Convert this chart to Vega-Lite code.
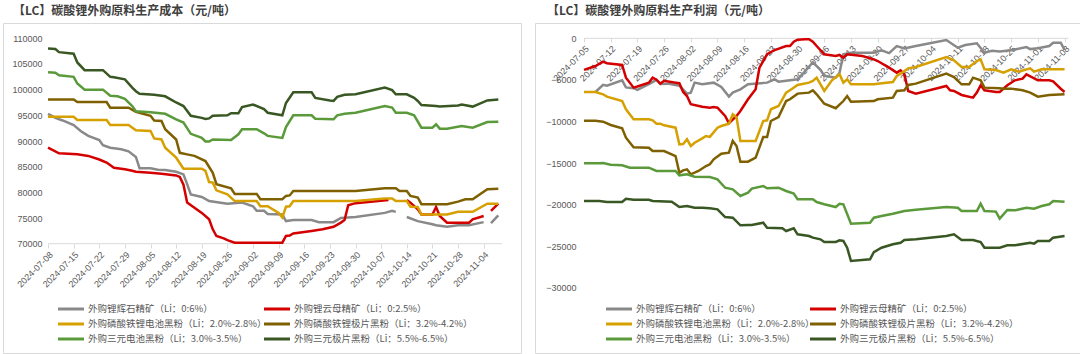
{
"$schema":"https://vega.github.io/schema/vega-lite/v6.json",
"background":"white",
"padding":{"left":2,"top":4,"right":0,"bottom":0},
"spacing":12,
"datasets":{
"series":[
{"k":1,"name":"外购锂辉石精矿（Li：0:6%）"},
{"k":2,"name":"外购锂云母精矿（Li：0:2.5%）"},
{"k":3,"name":"外购磷酸铁锂电池黑粉（Li：2.0%-2.8%）"},
{"k":4,"name":"外购磷酸铁锂极片黑粉（Li：3.2%-4.2%）"},
{"k":5,"name":"外购三元电池黑粉（Li：3.0%-3.5%）"},
{"k":6,"name":"外购三元极片黑粉（Li：5.5%-6.5%）"}
],
"cost":[
{"k":1,"d":"2024-07-08","v":95300},{"k":1,"d":"2024-07-10","v":94500},{"k":1,"d":"2024-07-12","v":94000},{"k":1,"d":"2024-07-15","v":93100},{"k":1,"d":"2024-07-17","v":91900},{"k":1,"d":"2024-07-19","v":91000},{"k":1,"d":"2024-07-22","v":90200},{"k":1,"d":"2024-07-23","v":89200},{"k":1,"d":"2024-07-25","v":88700},{"k":1,"d":"2024-07-28","v":88400},{"k":1,"d":"2024-07-30","v":88000},{"k":1,"d":"2024-08-01","v":86900},{"k":1,"d":"2024-08-02","v":84700},{"k":1,"d":"2024-08-05","v":84700},{"k":1,"d":"2024-08-07","v":84400},{"k":1,"d":"2024-08-09","v":84350},{"k":1,"d":"2024-08-12","v":84000},{"k":1,"d":"2024-08-14","v":83500},{"k":1,"d":"2024-08-15","v":81600},{"k":1,"d":"2024-08-16","v":79600},{"k":1,"d":"2024-08-19","v":79100},{"k":1,"d":"2024-08-21","v":78300},{"k":1,"d":"2024-08-26","v":77800},{"k":1,"d":"2024-08-30","v":78000},{"k":1,"d":"2024-09-02","v":77300},{"k":1,"d":"2024-09-03","v":76400},{"k":1,"d":"2024-09-05","v":76400},{"k":1,"d":"2024-09-06","v":75800},{"k":1,"d":"2024-09-10","v":75700},{"k":1,"d":"2024-09-11","v":74400},{"k":1,"d":"2024-09-13","v":74600},{"k":1,"d":"2024-09-18","v":74600},{"k":1,"d":"2024-09-20","v":74200},{"k":1,"d":"2024-09-24","v":74200},{"k":1,"d":"2024-09-26","v":75000},{"k":1,"d":"2024-09-30","v":75200},{"k":1,"d":"2024-10-08","v":76000},{"k":1,"d":"2024-10-10","v":76400},{"k":1,"d":"2024-10-11","v":76200},{"k":1,"d":"2024-10-12","v":null},{"k":1,"d":"2024-10-14","v":75200},{"k":1,"d":"2024-10-17","v":74400},{"k":1,"d":"2024-10-21","v":73800},{"k":1,"d":"2024-10-22","v":73600},{"k":1,"d":"2024-10-25","v":73300},{"k":1,"d":"2024-10-28","v":73600},{"k":1,"d":"2024-10-31","v":73600},{"k":1,"d":"2024-11-04","v":74200},{"k":1,"d":"2024-11-05","v":null},{"k":1,"d":"2024-11-06","v":74000},{"k":1,"d":"2024-11-08","v":75500},
{"k":2,"d":"2024-07-08","v":88700},{"k":2,"d":"2024-07-11","v":87600},{"k":2,"d":"2024-07-16","v":87400},{"k":2,"d":"2024-07-19","v":87100},{"k":2,"d":"2024-07-22","v":86400},{"k":2,"d":"2024-07-24","v":85800},{"k":2,"d":"2024-07-26","v":84800},{"k":2,"d":"2024-07-29","v":84500},{"k":2,"d":"2024-07-31","v":84200},{"k":2,"d":"2024-08-01","v":84000},{"k":2,"d":"2024-08-05","v":83800},{"k":2,"d":"2024-08-08","v":83600},{"k":2,"d":"2024-08-12","v":83300},{"k":2,"d":"2024-08-13","v":83000},{"k":2,"d":"2024-08-14","v":81500},{"k":2,"d":"2024-08-15","v":78000},{"k":2,"d":"2024-08-17","v":77000},{"k":2,"d":"2024-08-19","v":76000},{"k":2,"d":"2024-08-21","v":74750},{"k":2,"d":"2024-08-22","v":72800},{"k":2,"d":"2024-08-23","v":71500},{"k":2,"d":"2024-08-25","v":71050},{"k":2,"d":"2024-08-26","v":70700},{"k":2,"d":"2024-08-28","v":70200},{"k":2,"d":"2024-09-10","v":70200},{"k":2,"d":"2024-09-11","v":71500},{"k":2,"d":"2024-09-12","v":71600},{"k":2,"d":"2024-09-13","v":72000},{"k":2,"d":"2024-09-18","v":72470},{"k":2,"d":"2024-09-21","v":72800},{"k":2,"d":"2024-09-24","v":73300},{"k":2,"d":"2024-09-26","v":74100},{"k":2,"d":"2024-09-27","v":74600},{"k":2,"d":"2024-09-28","v":77500},{"k":2,"d":"2024-09-30","v":77900},{"k":2,"d":"2024-10-09","v":78500},{"k":2,"d":"2024-10-10","v":null},{"k":2,"d":"2024-10-14","v":78500},{"k":2,"d":"2024-10-15","v":78000},{"k":2,"d":"2024-10-17","v":76700},{"k":2,"d":"2024-10-18","v":75700},{"k":2,"d":"2024-10-21","v":75700},{"k":2,"d":"2024-10-22","v":77150},{"k":2,"d":"2024-10-23","v":75400},{"k":2,"d":"2024-10-25","v":74100},{"k":2,"d":"2024-10-31","v":74100},{"k":2,"d":"2024-11-01","v":74750},{"k":2,"d":"2024-11-04","v":75400},{"k":2,"d":"2024-11-05","v":null},{"k":2,"d":"2024-11-06","v":76400},{"k":2,"d":"2024-11-08","v":77800},
{"k":3,"d":"2024-07-08","v":94700},{"k":3,"d":"2024-07-15","v":94700},{"k":3,"d":"2024-07-16","v":94100},{"k":3,"d":"2024-07-24","v":94100},{"k":3,"d":"2024-07-25","v":93100},{"k":3,"d":"2024-07-30","v":93100},{"k":3,"d":"2024-08-01","v":92100},{"k":3,"d":"2024-08-05","v":91950},{"k":3,"d":"2024-08-06","v":90500},{"k":3,"d":"2024-08-08","v":90300},{"k":3,"d":"2024-08-09","v":88700},{"k":3,"d":"2024-08-12","v":86750},{"k":3,"d":"2024-08-14","v":84600},{"k":3,"d":"2024-08-19","v":84600},{"k":3,"d":"2024-08-20","v":84200},{"k":3,"d":"2024-08-21","v":82000},{"k":3,"d":"2024-08-22","v":81900},{"k":3,"d":"2024-08-23","v":80400},{"k":3,"d":"2024-08-26","v":79600},{"k":3,"d":"2024-08-28","v":78300},{"k":3,"d":"2024-09-03","v":78300},{"k":3,"d":"2024-09-04","v":77300},{"k":3,"d":"2024-09-06","v":77300},{"k":3,"d":"2024-09-09","v":76000},{"k":3,"d":"2024-09-10","v":75100},{"k":3,"d":"2024-09-11","v":77200},{"k":3,"d":"2024-09-12","v":77300},{"k":3,"d":"2024-09-13","v":78300},{"k":3,"d":"2024-09-30","v":78300},{"k":3,"d":"2024-10-08","v":78800},{"k":3,"d":"2024-10-10","v":78800},{"k":3,"d":"2024-10-11","v":78300},{"k":3,"d":"2024-10-14","v":78300},{"k":3,"d":"2024-10-15","v":77200},{"k":3,"d":"2024-10-17","v":77150},{"k":3,"d":"2024-10-18","v":75700},{"k":3,"d":"2024-10-25","v":75700},{"k":3,"d":"2024-10-28","v":76200},{"k":3,"d":"2024-11-01","v":76200},{"k":3,"d":"2024-11-05","v":77800},{"k":3,"d":"2024-11-08","v":77800},
{"k":4,"d":"2024-07-08","v":98100},{"k":4,"d":"2024-07-15","v":98100},{"k":4,"d":"2024-07-16","v":97600},{"k":4,"d":"2024-07-24","v":97600},{"k":4,"d":"2024-07-25","v":96500},{"k":4,"d":"2024-07-30","v":96500},{"k":4,"d":"2024-08-01","v":95700},{"k":4,"d":"2024-08-05","v":94900},{"k":4,"d":"2024-08-06","v":94000},{"k":4,"d":"2024-08-08","v":93900},{"k":4,"d":"2024-08-09","v":92300},{"k":4,"d":"2024-08-12","v":90300},{"k":4,"d":"2024-08-13","v":87700},{"k":4,"d":"2024-08-15","v":87400},{"k":4,"d":"2024-08-17","v":87100},{"k":4,"d":"2024-08-20","v":86100},{"k":4,"d":"2024-08-22","v":83800},{"k":4,"d":"2024-08-23","v":81600},{"k":4,"d":"2024-08-27","v":80800},{"k":4,"d":"2024-08-28","v":79700},{"k":4,"d":"2024-09-03","v":79700},{"k":4,"d":"2024-09-04","v":78650},{"k":4,"d":"2024-09-10","v":78650},{"k":4,"d":"2024-09-11","v":79300},{"k":4,"d":"2024-09-12","v":79400},{"k":4,"d":"2024-09-13","v":80260},{"k":4,"d":"2024-09-30","v":80260},{"k":4,"d":"2024-10-08","v":80800},{"k":4,"d":"2024-10-11","v":80800},{"k":4,"d":"2024-10-12","v":80260},{"k":4,"d":"2024-10-14","v":80260},{"k":4,"d":"2024-10-15","v":79300},{"k":4,"d":"2024-10-17","v":79000},{"k":4,"d":"2024-10-18","v":77700},{"k":4,"d":"2024-10-25","v":77700},{"k":4,"d":"2024-10-28","v":78200},{"k":4,"d":"2024-10-30","v":78650},{"k":4,"d":"2024-11-01","v":78650},{"k":4,"d":"2024-11-05","v":80600},{"k":4,"d":"2024-11-08","v":80700},
{"k":5,"d":"2024-07-08","v":103400},{"k":5,"d":"2024-07-10","v":103300},{"k":5,"d":"2024-07-11","v":102800},{"k":5,"d":"2024-07-15","v":102500},{"k":5,"d":"2024-07-16","v":101200},{"k":5,"d":"2024-07-18","v":100000},{"k":5,"d":"2024-07-23","v":100000},{"k":5,"d":"2024-07-25","v":98800},{"k":5,"d":"2024-07-27","v":98700},{"k":5,"d":"2024-07-29","v":98200},{"k":5,"d":"2024-07-31","v":96800},{"k":5,"d":"2024-08-01","v":95800},{"k":5,"d":"2024-08-05","v":95600},{"k":5,"d":"2024-08-09","v":95300},{"k":5,"d":"2024-08-12","v":94200},{"k":5,"d":"2024-08-14","v":93600},{"k":5,"d":"2024-08-16","v":91400},{"k":5,"d":"2024-08-19","v":90600},{"k":5,"d":"2024-08-20","v":89900},{"k":5,"d":"2024-08-21","v":89900},{"k":5,"d":"2024-08-22","v":90300},{"k":5,"d":"2024-08-27","v":90200},{"k":5,"d":"2024-08-29","v":91300},{"k":5,"d":"2024-08-30","v":92300},{"k":5,"d":"2024-09-03","v":92300},{"k":5,"d":"2024-09-05","v":91500},{"k":5,"d":"2024-09-06","v":91000},{"k":5,"d":"2024-09-10","v":90600},{"k":5,"d":"2024-09-11","v":92700},{"k":5,"d":"2024-09-13","v":95000},{"k":5,"d":"2024-09-18","v":95000},{"k":5,"d":"2024-09-19","v":94350},{"k":5,"d":"2024-09-24","v":94230},{"k":5,"d":"2024-09-25","v":95000},{"k":5,"d":"2024-09-27","v":95300},{"k":5,"d":"2024-09-30","v":95500},{"k":5,"d":"2024-10-08","v":96800},{"k":5,"d":"2024-10-10","v":96500},{"k":5,"d":"2024-10-11","v":95500},{"k":5,"d":"2024-10-14","v":95500},{"k":5,"d":"2024-10-16","v":95000},{"k":5,"d":"2024-10-18","v":92600},{"k":5,"d":"2024-10-21","v":92600},{"k":5,"d":"2024-10-22","v":93250},{"k":5,"d":"2024-10-23","v":92400},{"k":5,"d":"2024-10-25","v":92400},{"k":5,"d":"2024-10-29","v":92900},{"k":5,"d":"2024-11-01","v":92600},{"k":5,"d":"2024-11-05","v":93700},{"k":5,"d":"2024-11-08","v":93760},
{"k":6,"d":"2024-07-08","v":108000},{"k":6,"d":"2024-07-10","v":107900},{"k":6,"d":"2024-07-11","v":107300},{"k":6,"d":"2024-07-15","v":107000},{"k":6,"d":"2024-07-16","v":105300},{"k":6,"d":"2024-07-18","v":103800},{"k":6,"d":"2024-07-23","v":103800},{"k":6,"d":"2024-07-25","v":102500},{"k":6,"d":"2024-07-26","v":102400},{"k":6,"d":"2024-07-29","v":102000},{"k":6,"d":"2024-07-31","v":100400},{"k":6,"d":"2024-08-01","v":99700},{"k":6,"d":"2024-08-02","v":99200},{"k":6,"d":"2024-08-06","v":99000},{"k":6,"d":"2024-08-09","v":98700},{"k":6,"d":"2024-08-12","v":97500},{"k":6,"d":"2024-08-14","v":96800},{"k":6,"d":"2024-08-16","v":94900},{"k":6,"d":"2024-08-19","v":94500},{"k":6,"d":"2024-08-20","v":94300},{"k":6,"d":"2024-08-21","v":94400},{"k":6,"d":"2024-08-22","v":94900},{"k":6,"d":"2024-08-26","v":95000},{"k":6,"d":"2024-08-27","v":95400},{"k":6,"d":"2024-08-29","v":95400},{"k":6,"d":"2024-08-30","v":96600},{"k":6,"d":"2024-09-02","v":97100},{"k":6,"d":"2024-09-05","v":96200},{"k":6,"d":"2024-09-06","v":95500},{"k":6,"d":"2024-09-10","v":95000},{"k":6,"d":"2024-09-11","v":97400},{"k":6,"d":"2024-09-13","v":99500},{"k":6,"d":"2024-09-18","v":99500},{"k":6,"d":"2024-09-19","v":98400},{"k":6,"d":"2024-09-23","v":97900},{"k":6,"d":"2024-09-24","v":97800},{"k":6,"d":"2024-09-25","v":98600},{"k":6,"d":"2024-09-27","v":99000},{"k":6,"d":"2024-09-30","v":99100},{"k":6,"d":"2024-10-08","v":100400},{"k":6,"d":"2024-10-10","v":99900},{"k":6,"d":"2024-10-11","v":99100},{"k":6,"d":"2024-10-14","v":99100},{"k":6,"d":"2024-10-16","v":98400},{"k":6,"d":"2024-10-17","v":97800},{"k":6,"d":"2024-10-18","v":97000},{"k":6,"d":"2024-10-22","v":96800},{"k":6,"d":"2024-10-23","v":96700},{"k":6,"d":"2024-10-28","v":96900},{"k":6,"d":"2024-10-29","v":97100},{"k":6,"d":"2024-11-01","v":96700},{"k":6,"d":"2024-11-05","v":97900},{"k":6,"d":"2024-11-08","v":98100}
],
"profit":[
{"k":1,"d":"2024-07-08","v":-6450},{"k":1,"d":"2024-07-10","v":-5600},{"k":1,"d":"2024-07-11","v":-5700},{"k":1,"d":"2024-07-15","v":-5050},{"k":1,"d":"2024-07-16","v":-5900},{"k":1,"d":"2024-07-18","v":-6000},{"k":1,"d":"2024-07-19","v":-6200},{"k":1,"d":"2024-07-22","v":-5500},{"k":1,"d":"2024-07-24","v":-5000},{"k":1,"d":"2024-07-25","v":-5500},{"k":1,"d":"2024-07-27","v":-5450},{"k":1,"d":"2024-07-30","v":-5700},{"k":1,"d":"2024-08-01","v":-6650},{"k":1,"d":"2024-08-02","v":-6530},{"k":1,"d":"2024-08-03","v":-5330},{"k":1,"d":"2024-08-05","v":-5530},{"k":1,"d":"2024-08-08","v":-5330},{"k":1,"d":"2024-08-10","v":-5850},{"k":1,"d":"2024-08-12","v":-7000},{"k":1,"d":"2024-08-13","v":-6530},{"k":1,"d":"2024-08-15","v":-6130},{"k":1,"d":"2024-08-17","v":-5530},{"k":1,"d":"2024-08-22","v":-5330},{"k":1,"d":"2024-08-24","v":-4930},{"k":1,"d":"2024-08-25","v":-5210},{"k":1,"d":"2024-08-30","v":-4930},{"k":1,"d":"2024-09-01","v":-3930},{"k":1,"d":"2024-09-03","v":-2900},{"k":1,"d":"2024-09-05","v":-3800},{"k":1,"d":"2024-09-06","v":-4500},{"k":1,"d":"2024-09-09","v":-4730},{"k":1,"d":"2024-09-10","v":-4130},{"k":1,"d":"2024-09-11","v":-1930},{"k":1,"d":"2024-09-13","v":-1730},{"k":1,"d":"2024-09-19","v":-1730},{"k":1,"d":"2024-09-21","v":-1450},{"k":1,"d":"2024-09-23","v":-1780},{"k":1,"d":"2024-09-25","v":-930},{"k":1,"d":"2024-09-27","v":-1210},{"k":1,"d":"2024-09-30","v":-930},{"k":1,"d":"2024-10-08","v":-200},{"k":1,"d":"2024-10-11","v":-1130},{"k":1,"d":"2024-10-13","v":-800},{"k":1,"d":"2024-10-16","v":-600},{"k":1,"d":"2024-10-18","v":-1730},{"k":1,"d":"2024-10-20","v":-1500},{"k":1,"d":"2024-10-22","v":-1600},{"k":1,"d":"2024-10-25","v":-1450},{"k":1,"d":"2024-10-29","v":-1050},{"k":1,"d":"2024-10-30","v":-1300},{"k":1,"d":"2024-11-01","v":-1200},{"k":1,"d":"2024-11-04","v":-930},{"k":1,"d":"2024-11-05","v":-530},{"k":1,"d":"2024-11-07","v":-530},{"k":1,"d":"2024-11-08","v":-1400},
{"k":2,"d":"2024-07-05","v":-3800},{"k":2,"d":"2024-07-08","v":-3330},{"k":2,"d":"2024-07-10","v":-2810},{"k":2,"d":"2024-07-11","v":-3000},{"k":2,"d":"2024-07-15","v":-3210},{"k":2,"d":"2024-07-16","v":-4730},{"k":2,"d":"2024-07-18","v":-5930},{"k":2,"d":"2024-07-19","v":-5800},{"k":2,"d":"2024-07-22","v":-5330},{"k":2,"d":"2024-07-23","v":-4730},{"k":2,"d":"2024-07-24","v":-4970},{"k":2,"d":"2024-07-25","v":-5450},{"k":2,"d":"2024-07-26","v":-5100},{"k":2,"d":"2024-07-29","v":-5330},{"k":2,"d":"2024-07-30","v":-5400},{"k":2,"d":"2024-07-31","v":-6450},{"k":2,"d":"2024-08-01","v":-6940},{"k":2,"d":"2024-08-02","v":-7930},{"k":2,"d":"2024-08-05","v":-8220},{"k":2,"d":"2024-08-07","v":-8340},{"k":2,"d":"2024-08-08","v":-8260},{"k":2,"d":"2024-08-09","v":-8340},{"k":2,"d":"2024-08-11","v":-9340},{"k":2,"d":"2024-08-12","v":-10200},{"k":2,"d":"2024-08-14","v":-9340},{"k":2,"d":"2024-08-15","v":-8740},{"k":2,"d":"2024-08-17","v":-7330},{"k":2,"d":"2024-08-19","v":-6130},{"k":2,"d":"2024-08-20","v":-3530},{"k":2,"d":"2024-08-22","v":-1920},{"k":2,"d":"2024-08-24","v":-1410},{"k":2,"d":"2024-08-27","v":-930},{"k":2,"d":"2024-08-28","v":-930},{"k":2,"d":"2024-08-29","v":-410},{"k":2,"d":"2024-08-30","v":-170},{"k":2,"d":"2024-09-01","v":-100},{"k":2,"d":"2024-09-02","v":-100},{"k":2,"d":"2024-09-03","v":-400},{"k":2,"d":"2024-09-04","v":-930},{"k":2,"d":"2024-09-06","v":-1930},{"k":2,"d":"2024-09-09","v":-2130},{"k":2,"d":"2024-09-10","v":-2000},{"k":2,"d":"2024-09-11","v":-2330},{"k":2,"d":"2024-09-12","v":-1930},{"k":2,"d":"2024-09-16","v":-2130},{"k":2,"d":"2024-09-19","v":-2530},{"k":2,"d":"2024-09-20","v":-2730},{"k":2,"d":"2024-09-23","v":-3530},{"k":2,"d":"2024-09-25","v":-4130},{"k":2,"d":"2024-09-26","v":-3850},{"k":2,"d":"2024-09-27","v":-4330},{"k":2,"d":"2024-09-28","v":-6330},{"k":2,"d":"2024-09-30","v":-6650},{"k":2,"d":"2024-10-08","v":-5730},{"k":2,"d":"2024-10-09","v":-6250},{"k":2,"d":"2024-10-10","v":-6330},{"k":2,"d":"2024-10-12","v":-6810},{"k":2,"d":"2024-10-15","v":-7130},{"k":2,"d":"2024-10-16","v":-6530},{"k":2,"d":"2024-10-17","v":-5650},{"k":2,"d":"2024-10-18","v":-6250},{"k":2,"d":"2024-10-21","v":-6450},{"k":2,"d":"2024-10-22","v":-6450},{"k":2,"d":"2024-10-24","v":-5650},{"k":2,"d":"2024-10-26","v":-5050},{"k":2,"d":"2024-10-28","v":-4850},{"k":2,"d":"2024-10-29","v":-4330},{"k":2,"d":"2024-11-01","v":-5050},{"k":2,"d":"2024-11-04","v":-5050},{"k":2,"d":"2024-11-05","v":-5170},{"k":2,"d":"2024-11-07","v":-6060},{"k":2,"d":"2024-11-08","v":-6450},
{"k":3,"d":"2024-07-05","v":-6450},{"k":3,"d":"2024-07-08","v":-6450},{"k":3,"d":"2024-07-10","v":-6730},{"k":3,"d":"2024-07-11","v":-7010},{"k":3,"d":"2024-07-15","v":-7540},{"k":3,"d":"2024-07-16","v":-8530},{"k":3,"d":"2024-07-18","v":-9740},{"k":3,"d":"2024-07-22","v":-9740},{"k":3,"d":"2024-07-23","v":-9860},{"k":3,"d":"2024-07-24","v":-10260},{"k":3,"d":"2024-07-25","v":-10260},{"k":3,"d":"2024-07-26","v":-10460},{"k":3,"d":"2024-07-29","v":-10740},{"k":3,"d":"2024-07-30","v":-12740},{"k":3,"d":"2024-07-31","v":-12700},{"k":3,"d":"2024-08-01","v":-12140},{"k":3,"d":"2024-08-02","v":-12940},{"k":3,"d":"2024-08-03","v":-12550},{"k":3,"d":"2024-08-05","v":-12020},{"k":3,"d":"2024-08-06","v":-11740},{"k":3,"d":"2024-08-07","v":-11850},{"k":3,"d":"2024-08-09","v":-10740},{"k":3,"d":"2024-08-10","v":-10540},{"k":3,"d":"2024-08-12","v":-10260},{"k":3,"d":"2024-08-13","v":-9130},{"k":3,"d":"2024-08-14","v":-9500},{"k":3,"d":"2024-08-15","v":-12340},{"k":3,"d":"2024-08-19","v":-12340},{"k":3,"d":"2024-08-21","v":-9940},{"k":3,"d":"2024-08-22","v":-9860},{"k":3,"d":"2024-08-23","v":-8530},{"k":3,"d":"2024-08-25","v":-8140},{"k":3,"d":"2024-08-27","v":-6540},{"k":3,"d":"2024-08-28","v":-6250},{"k":3,"d":"2024-08-30","v":-5610},{"k":3,"d":"2024-09-02","v":-5330},{"k":3,"d":"2024-09-03","v":-5130},{"k":3,"d":"2024-09-04","v":-4730},{"k":3,"d":"2024-09-06","v":-6330},{"k":3,"d":"2024-09-08","v":-5050},{"k":3,"d":"2024-09-10","v":-4330},{"k":3,"d":"2024-09-11","v":-5330},{"k":3,"d":"2024-09-12","v":-4930},{"k":3,"d":"2024-09-13","v":-5530},{"k":3,"d":"2024-09-19","v":-5530},{"k":3,"d":"2024-09-20","v":-5450},{"k":3,"d":"2024-09-24","v":-5250},{"k":3,"d":"2024-09-25","v":-4530},{"k":3,"d":"2024-09-26","v":-4250},{"k":3,"d":"2024-09-28","v":-3610},{"k":3,"d":"2024-09-30","v":-3450},{"k":3,"d":"2024-10-08","v":-2250},{"k":3,"d":"2024-10-10","v":-2650},{"k":3,"d":"2024-10-12","v":-3450},{"k":3,"d":"2024-10-14","v":-3450},{"k":3,"d":"2024-10-16","v":-2730},{"k":3,"d":"2024-10-17","v":-2530},{"k":3,"d":"2024-10-18","v":-3730},{"k":3,"d":"2024-10-21","v":-3810},{"k":3,"d":"2024-10-23","v":-4130},{"k":3,"d":"2024-10-25","v":-3730},{"k":3,"d":"2024-10-27","v":-4010},{"k":3,"d":"2024-10-30","v":-3610},{"k":3,"d":"2024-10-31","v":-4010},{"k":3,"d":"2024-11-02","v":-3730},{"k":3,"d":"2024-11-04","v":-3730},{"k":3,"d":"2024-11-08","v":-3730},
{"k":4,"d":"2024-07-05","v":-9900},{"k":4,"d":"2024-07-08","v":-9900},{"k":4,"d":"2024-07-10","v":-10020},{"k":4,"d":"2024-07-12","v":-10420},{"k":4,"d":"2024-07-15","v":-10820},{"k":4,"d":"2024-07-16","v":-11950},{"k":4,"d":"2024-07-18","v":-13100},{"k":4,"d":"2024-07-22","v":-13150},{"k":4,"d":"2024-07-23","v":-13550},{"k":4,"d":"2024-07-26","v":-13550},{"k":4,"d":"2024-07-29","v":-14150},{"k":4,"d":"2024-07-30","v":-16150},{"k":4,"d":"2024-07-31","v":-15870},{"k":4,"d":"2024-08-01","v":-15750},{"k":4,"d":"2024-08-02","v":-16350},{"k":4,"d":"2024-08-04","v":-15950},{"k":4,"d":"2024-08-06","v":-15350},{"k":4,"d":"2024-08-07","v":-15150},{"k":4,"d":"2024-08-08","v":-14550},{"k":4,"d":"2024-08-10","v":-13870},{"k":4,"d":"2024-08-12","v":-13750},{"k":4,"d":"2024-08-13","v":-12340},{"k":4,"d":"2024-08-14","v":-12940},{"k":4,"d":"2024-08-15","v":-14830},{"k":4,"d":"2024-08-17","v":-14830},{"k":4,"d":"2024-08-19","v":-14350},{"k":4,"d":"2024-08-21","v":-11860},{"k":4,"d":"2024-08-22","v":-11860},{"k":4,"d":"2024-08-23","v":-9940},{"k":4,"d":"2024-08-25","v":-9460},{"k":4,"d":"2024-08-27","v":-7540},{"k":4,"d":"2024-08-28","v":-7330},{"k":4,"d":"2024-08-30","v":-6650},{"k":4,"d":"2024-09-02","v":-6530},{"k":4,"d":"2024-09-03","v":-6250},{"k":4,"d":"2024-09-04","v":-6730},{"k":4,"d":"2024-09-06","v":-7860},{"k":4,"d":"2024-09-09","v":-8410},{"k":4,"d":"2024-09-11","v":-7540},{"k":4,"d":"2024-09-12","v":-6940},{"k":4,"d":"2024-09-13","v":-7620},{"k":4,"d":"2024-09-19","v":-7540},{"k":4,"d":"2024-09-20","v":-7330},{"k":4,"d":"2024-09-24","v":-7130},{"k":4,"d":"2024-09-25","v":-6330},{"k":4,"d":"2024-09-27","v":-6250},{"k":4,"d":"2024-09-28","v":-5610},{"k":4,"d":"2024-09-30","v":-5450},{"k":4,"d":"2024-10-08","v":-4250},{"k":4,"d":"2024-10-10","v":-4650},{"k":4,"d":"2024-10-12","v":-5530},{"k":4,"d":"2024-10-14","v":-5530},{"k":4,"d":"2024-10-15","v":-4730},{"k":4,"d":"2024-10-17","v":-5050},{"k":4,"d":"2024-10-18","v":-5930},{"k":4,"d":"2024-10-22","v":-6010},{"k":4,"d":"2024-10-23","v":-6050},{"k":4,"d":"2024-10-25","v":-6050},{"k":4,"d":"2024-10-28","v":-6250},{"k":4,"d":"2024-10-30","v":-6530},{"k":4,"d":"2024-11-01","v":-7010},{"k":4,"d":"2024-11-04","v":-6810},{"k":4,"d":"2024-11-08","v":-6730},
{"k":5,"d":"2024-07-05","v":-15030},{"k":5,"d":"2024-07-09","v":-15030},{"k":5,"d":"2024-07-10","v":-15000},{"k":5,"d":"2024-07-12","v":-15200},{"k":5,"d":"2024-07-15","v":-15270},{"k":5,"d":"2024-07-17","v":-15550},{"k":5,"d":"2024-07-22","v":-15550},{"k":5,"d":"2024-07-24","v":-15950},{"k":5,"d":"2024-07-29","v":-15950},{"k":5,"d":"2024-07-30","v":-16470},{"k":5,"d":"2024-08-01","v":-16350},{"k":5,"d":"2024-08-03","v":-16630},{"k":5,"d":"2024-08-07","v":-16670},{"k":5,"d":"2024-08-09","v":-16950},{"k":5,"d":"2024-08-11","v":-17960},{"k":5,"d":"2024-08-13","v":-18150},{"k":5,"d":"2024-08-15","v":-18950},{"k":5,"d":"2024-08-17","v":-18550},{"k":5,"d":"2024-08-18","v":-18070},{"k":5,"d":"2024-08-21","v":-17750},{"k":5,"d":"2024-08-22","v":-18030},{"k":5,"d":"2024-08-25","v":-17950},{"k":5,"d":"2024-08-27","v":-18350},{"k":5,"d":"2024-08-29","v":-18670},{"k":5,"d":"2024-08-30","v":-19350},{"k":5,"d":"2024-09-03","v":-19350},{"k":5,"d":"2024-09-04","v":-19680},{"k":5,"d":"2024-09-06","v":-19950},{"k":5,"d":"2024-09-09","v":-20280},{"k":5,"d":"2024-09-10","v":-19880},{"k":5,"d":"2024-09-11","v":-19950},{"k":5,"d":"2024-09-13","v":-22280},{"k":5,"d":"2024-09-18","v":-22160},{"k":5,"d":"2024-09-19","v":-21560},{"k":5,"d":"2024-09-21","v":-21360},{"k":5,"d":"2024-09-24","v":-21080},{"k":5,"d":"2024-09-27","v":-20760},{"k":5,"d":"2024-09-30","v":-20600},{"k":5,"d":"2024-10-08","v":-20280},{"k":5,"d":"2024-10-11","v":-20360},{"k":5,"d":"2024-10-12","v":-20760},{"k":5,"d":"2024-10-16","v":-20760},{"k":5,"d":"2024-10-17","v":-19880},{"k":5,"d":"2024-10-18","v":-20760},{"k":5,"d":"2024-10-21","v":-20830},{"k":5,"d":"2024-10-22","v":-21680},{"k":5,"d":"2024-10-24","v":-20640},{"k":5,"d":"2024-10-26","v":-20680},{"k":5,"d":"2024-10-29","v":-20360},{"k":5,"d":"2024-10-31","v":-20480},{"k":5,"d":"2024-11-02","v":-20160},{"k":5,"d":"2024-11-04","v":-19950},{"k":5,"d":"2024-11-05","v":-19560},{"k":5,"d":"2024-11-08","v":-19640},
{"k":6,"d":"2024-07-05","v":-19560},{"k":6,"d":"2024-07-09","v":-19560},{"k":6,"d":"2024-07-11","v":-19680},{"k":6,"d":"2024-07-15","v":-19680},{"k":6,"d":"2024-07-16","v":-19280},{"k":6,"d":"2024-07-18","v":-19400},{"k":6,"d":"2024-07-22","v":-19400},{"k":6,"d":"2024-07-23","v":-19560},{"k":6,"d":"2024-07-28","v":-19640},{"k":6,"d":"2024-07-30","v":-20280},{"k":6,"d":"2024-08-01","v":-20160},{"k":6,"d":"2024-08-03","v":-20360},{"k":6,"d":"2024-08-05","v":-20360},{"k":6,"d":"2024-08-07","v":-20440},{"k":6,"d":"2024-08-09","v":-20560},{"k":6,"d":"2024-08-11","v":-21480},{"k":6,"d":"2024-08-13","v":-21560},{"k":6,"d":"2024-08-15","v":-22480},{"k":6,"d":"2024-08-17","v":-22440},{"k":6,"d":"2024-08-18","v":-22440},{"k":6,"d":"2024-08-21","v":-22160},{"k":6,"d":"2024-08-22","v":-22760},{"k":6,"d":"2024-08-26","v":-22840},{"k":6,"d":"2024-08-27","v":-23160},{"k":6,"d":"2024-08-29","v":-22840},{"k":6,"d":"2024-08-30","v":-23560},{"k":6,"d":"2024-09-02","v":-23760},{"k":6,"d":"2024-09-03","v":-23960},{"k":6,"d":"2024-09-05","v":-24160},{"k":6,"d":"2024-09-06","v":-24480},{"k":6,"d":"2024-09-09","v":-24480},{"k":6,"d":"2024-09-10","v":-24280},{"k":6,"d":"2024-09-11","v":-24360},{"k":6,"d":"2024-09-12","v":-25170},{"k":6,"d":"2024-09-13","v":-26770},{"k":6,"d":"2024-09-18","v":-26560},{"k":6,"d":"2024-09-19","v":-25690},{"k":6,"d":"2024-09-21","v":-25170},{"k":6,"d":"2024-09-24","v":-24760},{"k":6,"d":"2024-09-26","v":-24570},{"k":6,"d":"2024-09-27","v":-24240},{"k":6,"d":"2024-09-30","v":-24160},{"k":6,"d":"2024-10-08","v":-23760},{"k":6,"d":"2024-10-10","v":-23560},{"k":6,"d":"2024-10-12","v":-24240},{"k":6,"d":"2024-10-15","v":-24240},{"k":6,"d":"2024-10-17","v":-24480},{"k":6,"d":"2024-10-18","v":-25170},{"k":6,"d":"2024-10-22","v":-25170},{"k":6,"d":"2024-10-24","v":-24880},{"k":6,"d":"2024-10-26","v":-24880},{"k":6,"d":"2024-10-30","v":-24570},{"k":6,"d":"2024-10-31","v":-24680},{"k":6,"d":"2024-11-01","v":-24360},{"k":6,"d":"2024-11-04","v":-24360},{"k":6,"d":"2024-11-05","v":-23960},{"k":6,"d":"2024-11-08","v":-23760}
]
},
"hconcat":[
{
"width":518,"height":330,
"title":{"text":"【LC】碳酸锂外购原料生产成本（元/吨）","anchor":"start","dx":10,"offset":5,"fontSize":12,"fontWeight":"bold","color":"#404040","font":"Noto Sans CJK SC"},
"layer":[
{"data":{"values":[{}]},"mark":{"type":"rule","color":"#d9d9d9","strokeWidth":1},
"encoding":{"x":{"datum":{"year":2024,"month":7,"date":8,"utc":true},"type":"temporal"},"x2":{"datum":{"year":2024,"month":11,"date":9,"utc":true}},"y":{"datum":70000,"type":"quantitative"}}},
{"data":{"name":"cost"},
"transform":[{"lookup":"k","from":{"data":{"name":"series"},"key":"k","fields":["name"]}}],
"mark":{"type":"line","strokeWidth":2.5,"invalid":"break-paths-show-domains"},
"encoding":{
"x":{"field":"d","type":"temporal","scale":{"type":"utc","domain":[{"year":2024,"month":6,"date":25,"hours":16,"minutes":48,"utc":true},{"year":2024,"month":11,"date":14,"hours":4,"minutes":48,"utc":true}]},
"axis":{"values":[{"year":2024,"month":7,"date":8,"utc":true},{"year":2024,"month":7,"date":15,"utc":true},{"year":2024,"month":7,"date":22,"utc":true},{"year":2024,"month":7,"date":29,"utc":true},{"year":2024,"month":8,"date":5,"utc":true},{"year":2024,"month":8,"date":12,"utc":true},{"year":2024,"month":8,"date":19,"utc":true},{"year":2024,"month":8,"date":26,"utc":true},{"year":2024,"month":9,"date":2,"utc":true},{"year":2024,"month":9,"date":9,"utc":true},{"year":2024,"month":9,"date":16,"utc":true},{"year":2024,"month":9,"date":23,"utc":true},{"year":2024,"month":9,"date":30,"utc":true},{"year":2024,"month":10,"date":7,"utc":true},{"year":2024,"month":10,"date":14,"utc":true},{"year":2024,"month":10,"date":21,"utc":true},{"year":2024,"month":10,"date":28,"utc":true},{"year":2024,"month":11,"date":4,"utc":true}],
"tickCount":40,"format":"%Y-%m-%d","labelAngle":-45,"labelAlign":"right","labelBaseline":"top","offset":-109,"domain":false,"ticks":true,"tickSize":4,"tickColor":"#d9d9d9","labelOverlap":false,"labelFlush":false,"labelBound":false}},
"y":{"field":"v","type":"quantitative","scale":{"domain":[48715,112980],"nice":false,"zero":false},
"axis":{"values":[70000,75000,80000,85000,90000,95000,100000,105000,110000],"tickCount":20,"format":"d","offset":-41,"domain":false,"ticks":false,"labelPadding":2}},
"color":{"field":"name","type":"nominal","sort":null,
"scale":{"domain":["外购锂辉石精矿（Li：0:6%）","外购锂云母精矿（Li：0:2.5%）","外购磷酸铁锂电池黑粉（Li：2.0%-2.8%）","外购磷酸铁锂极片黑粉（Li：3.2%-4.2%）","外购三元电池黑粉（Li：3.0%-3.5%）","外购三元极片黑粉（Li：5.5%-6.5%）"],"range":["#898989","#d40000","#d6a000","#7f6000","#5a9a3a","#385723"]},
"legend":{"orient":"none","legendX":60,"legendY":278,"columnPadding":-9}}
}}
]
},
{
"width":545,"height":330,
"title":{"text":"【LC】碳酸锂外购原料生产利润（元/吨）","anchor":"start","dx":12,"offset":5,"fontSize":12,"fontWeight":"bold","color":"#404040","font":"Noto Sans CJK SC"},
"layer":[
{"data":{"values":[{}]},"mark":{"type":"rule","color":"#d9d9d9","strokeWidth":1},
"encoding":{"x":{"datum":{"year":2024,"month":7,"date":5,"utc":true},"type":"temporal"},"x2":{"datum":{"year":2024,"month":11,"date":9,"utc":true}},"y":{"datum":0,"type":"quantitative"}}},
{"data":{"name":"profit"},
"transform":[{"lookup":"k","from":{"data":{"name":"series"},"key":"k","fields":["name"]}}],
"mark":{"type":"line","strokeWidth":2.5,"invalid":"break-paths-show-domains"},
"encoding":{
"x":{"field":"d","type":"temporal","scale":{"type":"utc","domain":[{"year":2024,"month":6,"date":22,"hours":3,"minutes":36,"utc":true},{"year":2024,"month":11,"date":12,"hours":1,"minutes":12,"utc":true}]},
"axis":{"values":[{"year":2024,"month":7,"date":5,"utc":true},{"year":2024,"month":7,"date":12,"utc":true},{"year":2024,"month":7,"date":19,"utc":true},{"year":2024,"month":7,"date":26,"utc":true},{"year":2024,"month":8,"date":2,"utc":true},{"year":2024,"month":8,"date":9,"utc":true},{"year":2024,"month":8,"date":16,"utc":true},{"year":2024,"month":8,"date":23,"utc":true},{"year":2024,"month":8,"date":30,"utc":true},{"year":2024,"month":9,"date":6,"utc":true},{"year":2024,"month":9,"date":13,"utc":true},{"year":2024,"month":9,"date":20,"utc":true},{"year":2024,"month":9,"date":27,"utc":true},{"year":2024,"month":10,"date":4,"utc":true},{"year":2024,"month":10,"date":11,"utc":true},{"year":2024,"month":10,"date":18,"utc":true},{"year":2024,"month":10,"date":25,"utc":true},{"year":2024,"month":11,"date":1,"utc":true},{"year":2024,"month":11,"date":8,"utc":true}],
"tickCount":40,"format":"%Y-%m-%d","labelAngle":-45,"labelAlign":"right","labelBaseline":"top","offset":-315,"domain":false,"ticks":true,"tickSize":4,"tickColor":"#d9d9d9","labelOverlap":false,"labelFlush":false,"labelBound":false}},
"y":{"field":"v","type":"quantitative","scale":{"domain":[-37825,1839],"nice":false,"zero":false},
"axis":{"values":[-30000,-25000,-20000,-15000,-10000,-5000,0],"tickCount":20,"format":"d","offset":-43,"domain":false,"ticks":false,"labelPadding":2}},
"color":{"field":"name","type":"nominal","sort":null,
"scale":{"domain":["外购锂辉石精矿（Li：0:6%）","外购锂云母精矿（Li：0:2.5%）","外购磷酸铁锂电池黑粉（Li：2.0%-2.8%）","外购磷酸铁锂极片黑粉（Li：3.2%-4.2%）","外购三元电池黑粉（Li：3.0%-3.5%）","外购三元极片黑粉（Li：5.5%-6.5%）"],"range":["#898989","#d40000","#d6a000","#7f6000","#5a9a3a","#385723"]},
"legend":{"orient":"none","legendX":76,"legendY":278,"columnPadding":-12}}
}}
]
}
],
"resolve":{"scale":{"color":"independent","x":"independent","y":"independent"},"legend":{"color":"independent"}},
"config":{
"view":{"stroke":"#d9d9d9","strokeWidth":1},
"font":"Noto Sans CJK SC",
"axis":{"labelFont":"Liberation Sans","labelColor":"#595959","labelFontSize":9,"grid":false,"title":null,"labelOverlap":false},
"legend":{"title":null,"direction":"horizontal","columns":2,"symbolType":"M-2,0H2","symbolSize":169,"symbolStrokeWidth":3,"symbolFillColor":"transparent","labelFont":"Noto Sans CJK SC","labelFontSize":9.5,"labelColor":"#595959","labelLimit":0,"labelOffset":9,"rowPadding":1,"padding":0}
}
}
